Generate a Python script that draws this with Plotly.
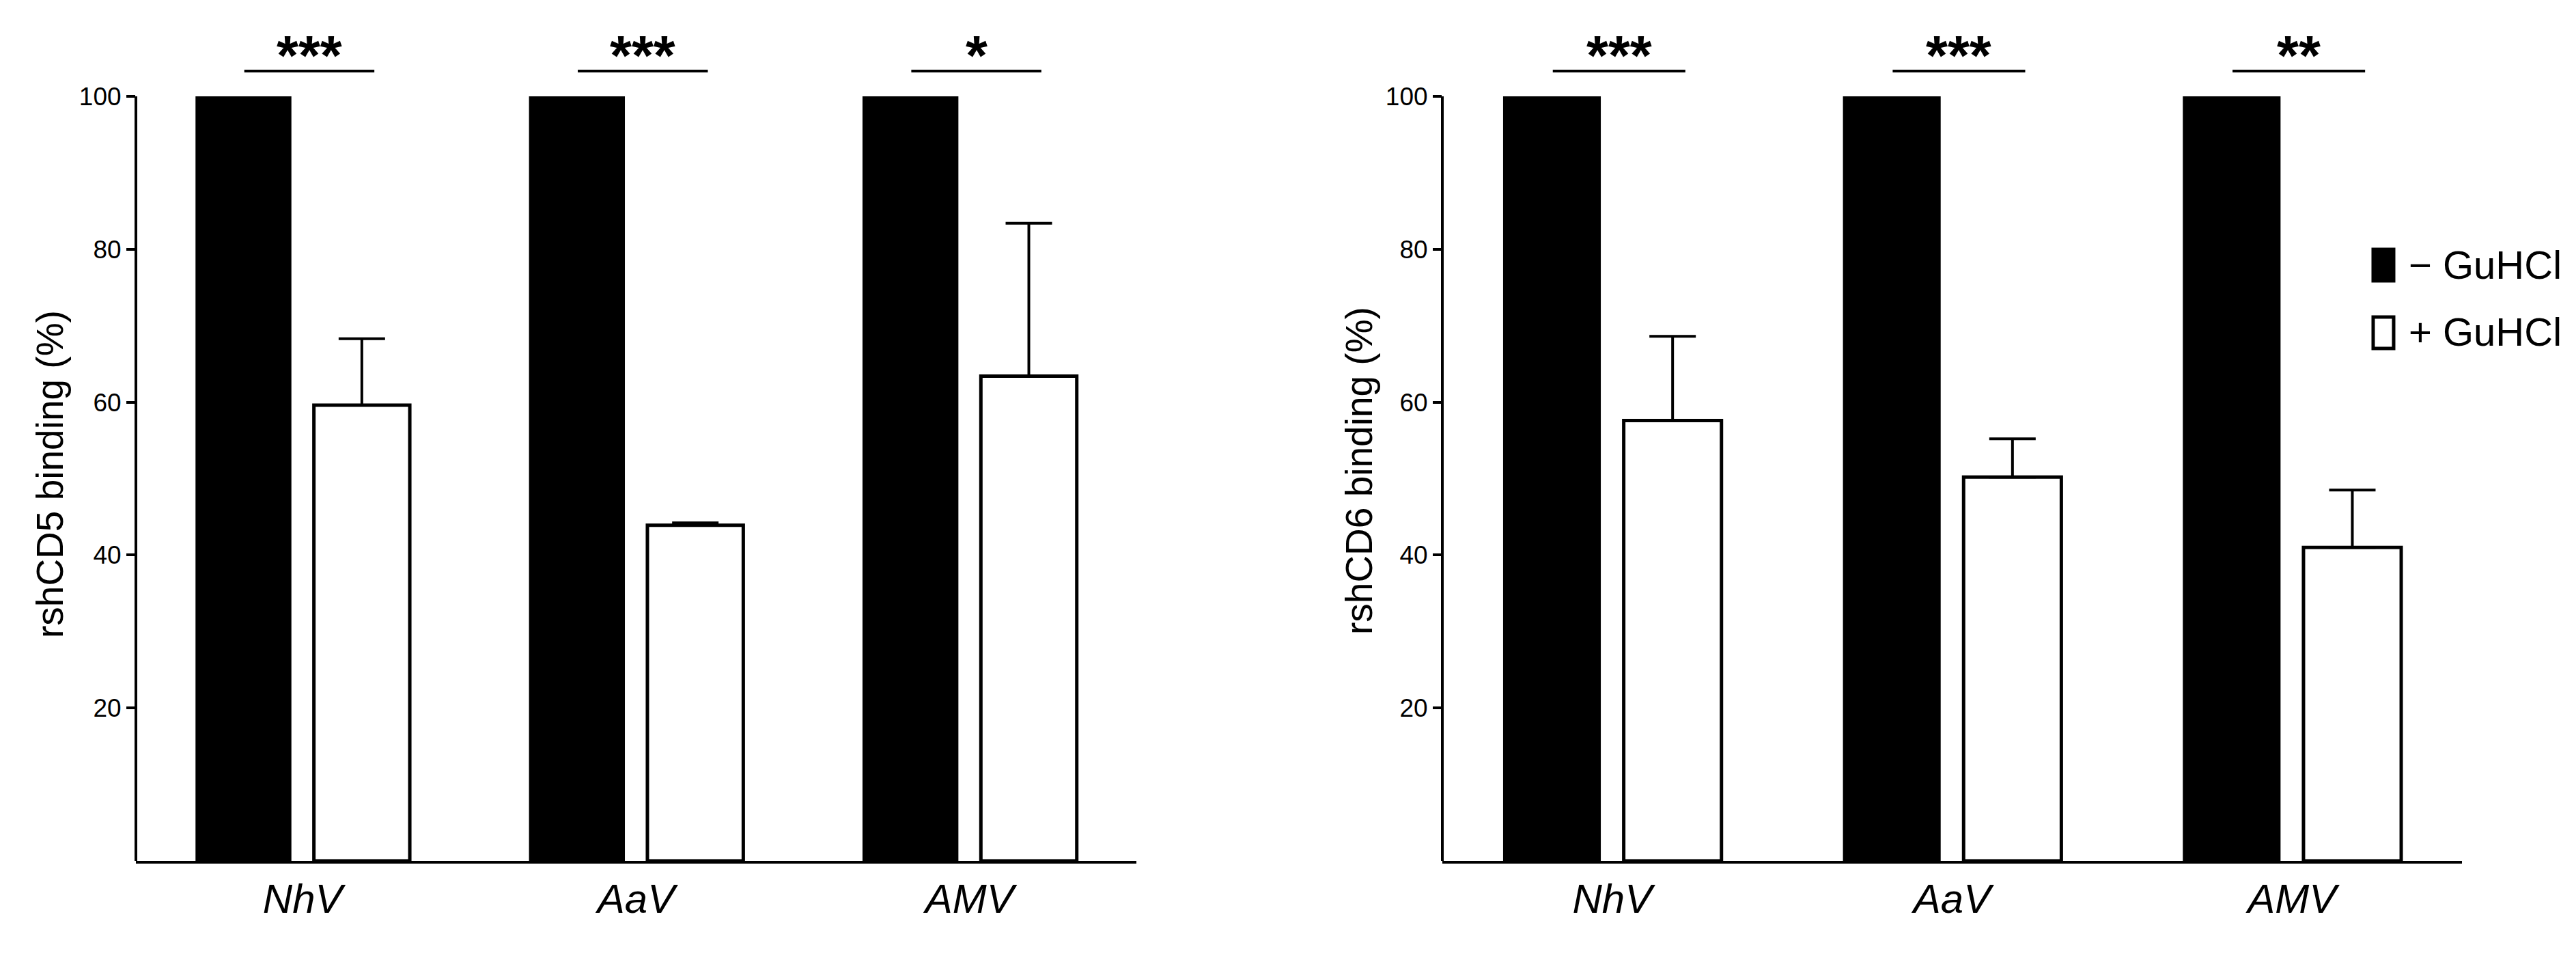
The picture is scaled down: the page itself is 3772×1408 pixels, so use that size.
import plotly.graph_objects as go
from plotly.subplots import make_subplots

# Daten
viruses = ["NhV", "AaV", "AMV"]
minus_guhcl = [100, 100, 100]

cd5_plus = [59.6, 43.9, 63.4]
cd5_err = [8.7, 0.3, 20.0]
cd5_stars = ["***", "***", "*"]

cd6_plus = [57.6, 50.2, 41.0]
cd6_err = [11.0, 5.0, 7.5]
cd6_stars = ["***", "***", "**"]

y_ticks = [20, 40, 60, 80, 100]
legend_labels = ["− GuHCl", "+ GuHCl"]

W, H = 3756, 1392
FONT = "Liberation Sans, Arial, Helvetica, sans-serif"


def paper_x(sx):
    # Bildschirm-Pixel -> Papier-Koordinate (Seite hat 8px Rand)
    return (sx - 8) / W


def paper_y(sy):
    return (1260 - sy) / 1231


fig = make_subplots(rows=1, cols=2)

panels = [
    (1, cd5_plus, cd5_err, cd5_stars),
    (2, cd6_plus, cd6_err, cd6_stars),
]

for col, plus, err, stars in panels:
    fig.add_trace(go.Bar(
        x=viruses, y=minus_guhcl, name=legend_labels[0],
        marker=dict(color="black", line=dict(color="black", width=0)),
        showlegend=False,
    ), row=1, col=col)
    fig.add_trace(go.Bar(
        x=viruses, y=plus, name=legend_labels[1],
        marker=dict(color="white", line=dict(color="black", width=5)),
        error_y=dict(type="data", symmetric=False, array=err,
                     arrayminus=[0] * len(err), color="black",
                     thickness=4, width=34),
        showlegend=False,
    ), row=1, col=col)

    xref = "x" if col == 1 else "x2"
    yref = "y" if col == 1 else "y2"

    # y-Achsenlinie nur von 0 bis 100
    fig.add_shape(type="line", xref=xref + " domain", yref=yref,
                  x0=0, x1=0, y0=0, y1=100,
                  line=dict(color="black", width=4))

    # Signifikanz-Klammern
    for i, s in enumerate(stars):
        fig.add_shape(type="line", xref=xref, yref=yref,
                      x0=i - 0.175, x1=i + 0.215, y0=103.3, y1=103.3,
                      line=dict(color="black", width=4))
        fig.add_annotation(x=i + 0.02, y=105.4, xref=xref, yref=yref,
                           text="<b>%s</b>" % s, showarrow=False,
                           xanchor="center", yanchor="middle",
                           font=dict(family=FONT, size=82, color="black"))

axis_common_x = dict(
    showline=True, linecolor="black", linewidth=4, ticks="",
    showgrid=False, zeroline=False, range=[-0.5, 2.5],
    tickfont=dict(family=FONT, size=60, color="black", style="italic"),
)
axis_common_y = dict(
    showline=False, ticks="outside", ticklen=13, tickwidth=4,
    tickcolor="black", showgrid=False, zeroline=False, range=[0, 110],
    tickvals=y_ticks, tickfont=dict(family=FONT, size=37, color="black"),
)

fig.update_layout(
    xaxis=dict(domain=[paper_x(199), paper_x(1664)], **axis_common_x),
    xaxis2=dict(domain=[paper_x(2112), paper_x(3605)], **axis_common_x),
    yaxis=dict(**axis_common_y),
    yaxis2=dict(**axis_common_y),
)

# y-Achsentitel
for sx, sy, txt in [(73, 694, "rshCD5 binding (%)"), (1990, 689, "rshCD6 binding (%)")]:
    fig.add_annotation(x=paper_x(sx), y=paper_y(sy), xref="paper", yref="paper",
                       text=txt, textangle=-90, showarrow=False,
                       xanchor="center", yanchor="middle",
                       font=dict(family=FONT, size=55, color="black"))

# Legende von Hand
for (top, bottom, fill), label, sy in zip(
        [(363, 413, "black"), (462, 512, "white")], legend_labels, [387, 485]):
    fig.add_shape(type="rect", xref="paper", yref="paper",
                  x0=paper_x(3475), x1=paper_x(3505),
                  y0=paper_y(bottom - 2), y1=paper_y(top + 2),
                  fillcolor=fill, line=dict(color="black", width=5))
    fig.add_annotation(x=paper_x(3525), y=paper_y(sy), xref="paper", yref="paper",
                       text=label, showarrow=False, xanchor="left", yanchor="middle",
                       font=dict(family=FONT, size=58, color="black"))

fig.update_layout(
    width=W, height=H,
    margin=dict(l=0, r=0, t=21, b=140),
    barmode="group", bargap=0.29, bargroupgap=0.19,
    plot_bgcolor="white", paper_bgcolor="white",
    font=dict(family=FONT, color="black"),
)

fig.write_html("out.html")
